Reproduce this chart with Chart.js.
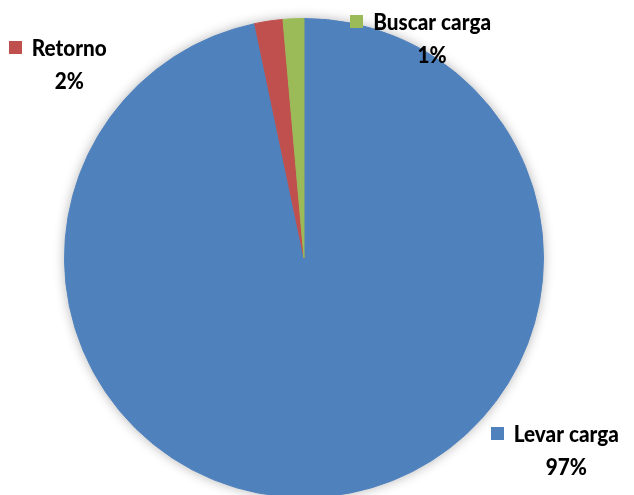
<!DOCTYPE html>
<html>
<head>
<meta charset="utf-8">
<script src="https://cdn.jsdelivr.net/npm/chart.js@4/dist/chart.umd.min.js"></script>
<style>
  html, body { margin: 0; padding: 0; background: #ffffff; overflow: hidden; }
  #wrap { position: relative; width: 634px; height: 500px; }
</style>
</head>
<body>
<div id="wrap"><canvas id="c" width="634" height="500"></canvas></div>
<script>
// Data (clockwise from 12 o'clock)
const categories = ["Levar carga", "Retorno", "Buscar carga"];
const values = [96.7, 1.9, 1.4];
const percentLabels = ["97%", "2%", "1%"];
const colors = ["#4F81BD", "#C0504D", "#9BBB59"];

// Label anchors (text centre / baseline), relative to pie centre in radius units
const labelAnchors = [
  { dx: 1.095, dy: 0.77 },   // Levar carga
  { dx: -0.98, dy: -0.845 }, // Retorno
  { dx: 0.535, dy: -0.95 }   // Buscar carga
];

const shadowPlugin = {
  id: 'pieShadow',
  beforeDatasetsDraw(chart) {
    const arc = chart.getDatasetMeta(0).data[0];
    if (!arc) return;
    const ctx = chart.ctx;
    ctx.save();
    ctx.shadowColor = 'rgba(0,0,0,0.30)';
    ctx.shadowBlur = 12;
    ctx.shadowOffsetX = 0;
    ctx.shadowOffsetY = 0;
    ctx.fillStyle = '#ffffff';
    ctx.beginPath();
    ctx.arc(arc.x, arc.y, arc.outerRadius, 0, Math.PI * 2);
    ctx.fill();
    ctx.restore();
  }
};

const labelPlugin = {
  id: 'excelLabels',
  afterDatasetsDraw(chart) {
    const meta = chart.getDatasetMeta(0);
    const ctx = chart.ctx;
    const sx = 0.9;
    ctx.save();
    ctx.font = '900 23px Lato, "Open Sans", sans-serif';
    ctx.textBaseline = 'alphabetic';
    meta.data.forEach((arc, i) => {
      const r = arc.outerRadius;
      const cx = arc.x + labelAnchors[i].dx * r;
      const cy = arc.y + labelAnchors[i].dy * r;
      const name = categories[i];
      const w = ctx.measureText(name).width * sx;
      // legend key
      ctx.fillStyle = colors[i];
      ctx.fillRect(Math.round(cx - w / 2 - 23), Math.round(cy - 15), 13, 13);
      ctx.fillStyle = '#000000';
      ctx.textAlign = 'center';
      ctx.save();
      ctx.translate(cx, cy);
      ctx.scale(sx, 1);
      ctx.fillText(name, 0, 0);
      ctx.fillText(percentLabels[i], 0, 33);
      ctx.restore();
    });
    ctx.restore();
  }
};

new Chart(document.getElementById('c'), {
  type: 'pie',
  data: {
    labels: categories,
    datasets: [{
      data: values,
      backgroundColor: colors,
      borderColor: colors,
      borderWidth: 1
    }]
  },
  options: {
    responsive: false,
    animation: false,
    events: [],
    layout: { padding: { left: 64, right: 90, top: 18, bottom: 2 } },
    plugins: {
      legend: { display: false },
      tooltip: { enabled: false }
    }
  },
  plugins: [shadowPlugin, labelPlugin]
});
</script>
</body>
</html>
